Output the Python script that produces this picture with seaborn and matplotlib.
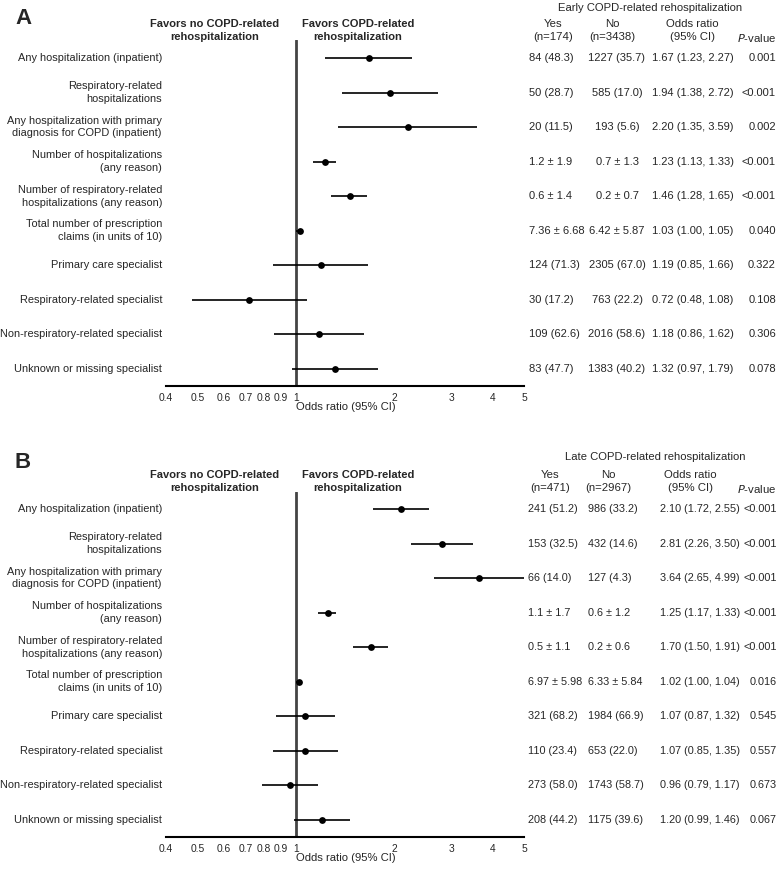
import numpy as np
import pandas as pd
import seaborn as sns
import matplotlib.pyplot as plt
from matplotlib import transforms

labels = ['Any hospitalization (inpatient)',
          'Respiratory-related\nhospitalizations',
          'Any hospitalization with primary\ndiagnosis for COPD (inpatient)',
          'Number of hospitalizations\n(any reason)',
          'Number of respiratory-related\nhospitalizations (any reason)',
          'Total number of prescription\nclaims (in units of 10)',
          'Primary care specialist',
          'Respiratory-related specialist',
          'Non-respiratory-related specialist',
          'Unknown or missing specialist']

# panel A: early rehospitalization
or_a = [1.67, 1.94, 2.20, 1.23, 1.46, 1.03, 1.19, 0.72, 1.18, 1.32]
lo_a = [1.23, 1.38, 1.35, 1.13, 1.28, 1.00, 0.85, 0.48, 0.86, 0.97]
hi_a = [2.27, 2.72, 3.59, 1.33, 1.65, 1.05, 1.66, 1.08, 1.62, 1.79]
yes_a = ['84 (48.3)', '50 (28.7)', '20 (11.5)', '1.2 ± 1.9', '0.6 ± 1.4', '7.36 ± 6.68',
         '124 (71.3)', '30 (17.2)', '109 (62.6)', '83 (47.7)']
no_a = ['1227 (35.7)', '585 (17.0)', '193 (5.6)', '0.7 ± 1.3', '0.2 ± 0.7', '6.42 ± 5.87',
        '2305 (67.0)', '763 (22.2)', '2016 (58.6)', '1383 (40.2)']
p_a = ['0.001', '<0.001', '0.002', '<0.001', '<0.001', '0.040', '0.322', '0.108', '0.306', '0.078']

# panel B: late rehospitalization
or_b = [2.10, 2.81, 3.64, 1.25, 1.70, 1.02, 1.07, 1.07, 0.96, 1.20]
lo_b = [1.72, 2.26, 2.65, 1.17, 1.50, 1.00, 0.87, 0.85, 0.79, 0.99]
hi_b = [2.55, 3.50, 4.99, 1.33, 1.91, 1.04, 1.32, 1.35, 1.17, 1.46]
yes_b = ['241 (51.2)', '153 (32.5)', '66 (14.0)', '1.1 ± 1.7', '0.5 ± 1.1', '6.97 ± 5.98',
         '321 (68.2)', '110 (23.4)', '273 (58.0)', '208 (44.2)']
no_b = ['986 (33.2)', '432 (14.6)', '127 (4.3)', '0.6 ± 1.2', '0.2 ± 0.6', '6.33 ± 5.84',
        '1984 (66.9)', '653 (22.0)', '1743 (58.7)', '1175 (39.6)']
p_b = ['<0.001', '<0.001', '<0.001', '<0.001', '<0.001', '0.016', '0.545', '0.557', '0.673', '0.067']

ticks = [0.4, 0.5, 0.6, 0.7, 0.8, 0.9, 1, 2, 3, 4, 5]
tick_labels = ['0.4', '0.5', '0.6', '0.7', '0.8', '0.9', '1', '2', '3', '4', '5']

sns.set_style('white')
plt.rcParams['font.family'] = ['Liberation Sans', 'DejaVu Sans']

W, H = 778, 873
LS = 1.36
fig = plt.figure(figsize=(W / 100, H / 100), dpi=100)


def fx(x):
    return x / W


def fy(y):
    return 1 - y / H


def panel(ors, los, his, yes, no, ps, top, row0, spine, cols, no_ha, vsize):
    ax = fig.add_axes([fx(166), fy(spine), fx(524 - 166), (spine - top) / H])
    step = (spine - row0) / 9.5
    ax.set_ylim(9 + (spine - (row0 + 9 * step)) / step, -(row0 - top) / step)
    rows = np.arange(len(ors))
    df = pd.DataFrame({'or': ors, 'lo': los, 'hi': his, 'row': rows})
    ax.hlines(df['row'], df['lo'], df['hi'], color='black', lw=1.2, zorder=2)
    sns.scatterplot(data=df, x='or', y='row', ax=ax, color='black', s=24,
                    edgecolor='black', linewidth=0, zorder=3, legend=False)
    ax.axvline(1, color='#444444', lw=2, zorder=1)
    ax.set_xscale('log')
    ax.set_xlim(0.4, 5)
    ax.set_xticks(ticks)
    ax.set_xticklabels(tick_labels, fontsize=7.4)
    ax.minorticks_off()
    ax.set_yticks([])
    ax.set_ylabel('')
    for s in ['top', 'right', 'left']:
        ax.spines[s].set_visible(False)
    ax.spines['bottom'].set_linewidth(1.5)
    ax.spines['bottom'].set_color('black')
    ax.tick_params(axis='x', direction='out', length=3, width=1, color='black', pad=2)
    ax.set_xlabel('Odds ratio (95% CI)', fontsize=8.1)
    ax.xaxis.label.set_ha('left')
    ax.xaxis.set_label_coords((295.5 - 166) / (524 - 166), -0.045)

    tr = transforms.blended_transform_factory(fig.transFigure, ax.transData)
    for i in rows:
        ax.text(fx(162), i, labels[i], transform=tr, ha='right', va='center',
                fontsize=7.9, multialignment='right', linespacing=LS)
        ax.text(fx(cols[0]), i, yes[i], transform=tr, ha='left', va='center', fontsize=vsize)
        ax.text(fx(cols[1]), i, no[i], transform=tr, ha=no_ha, va='center', fontsize=vsize)
        ax.text(fx(cols[2]), i, '%.2f (%.2f, %.2f)' % (ors[i], los[i], his[i]),
                transform=tr, ha='left', va='center', fontsize=vsize)
        ax.text(fx(cols[3]), i, ps[i], transform=tr, ha='right', va='center', fontsize=vsize)
    return ax


def headers(letter, title, nyes, nno, y0, ty, ly, cx):
    fig.text(fx(15), fy(ly), letter, fontsize=16, fontweight='bold', ha='left', va='center')
    fig.text(fx(cx[4]), fy(ty), title, fontsize=8.1, ha='center', va='center')
    fig.text(fx(215), fy(y0), 'Favors no COPD-related\nrehospitalization', fontsize=8,
             fontweight='bold', ha='center', va='top', linespacing=LS)
    fig.text(fx(358), fy(y0), 'Favors COPD-related\nrehospitalization', fontsize=8,
             fontweight='bold', ha='center', va='top', linespacing=LS)
    fig.text(fx(cx[0]), fy(y0), 'Yes\n' + nyes, fontsize=8.2, ha='center', va='top', linespacing=LS)
    fig.text(fx(cx[1]), fy(y0), 'No\n' + nno, fontsize=8.2, ha='center', va='top', linespacing=LS)
    fig.text(fx(cx[2]), fy(y0), 'Odds ratio\n(95% CI)', fontsize=8.2, ha='center', va='top',
             linespacing=LS)
    fig.text(fx(cx[3]), fy(y0 + 13), '$\\it{P}$-value', fontsize=8.2, ha='center', va='top')


ax_a = panel(or_a, lo_a, hi_a, yes_a, no_a, p_a,
             40, 58, 386, [529, 617, 652, 776], 'center', 8.0)
headers('A', 'Early COPD-related rehospitalization', '(n=174)', '(n=3438)', 19, 8, 18,
        [553, 612, 692, 757, 650])

ax_b = panel(or_b, lo_b, hi_b, yes_b, no_b, p_b,
             492, 509, 837, [528, 588, 660, 777], 'left', 7.8)
headers('B', 'Late COPD-related rehospitalization', '(n=471)', '(n=2967)', 470, 457, 463,
        [550, 608, 690, 757, 655])

fig.savefig('out.png', dpi=100)
